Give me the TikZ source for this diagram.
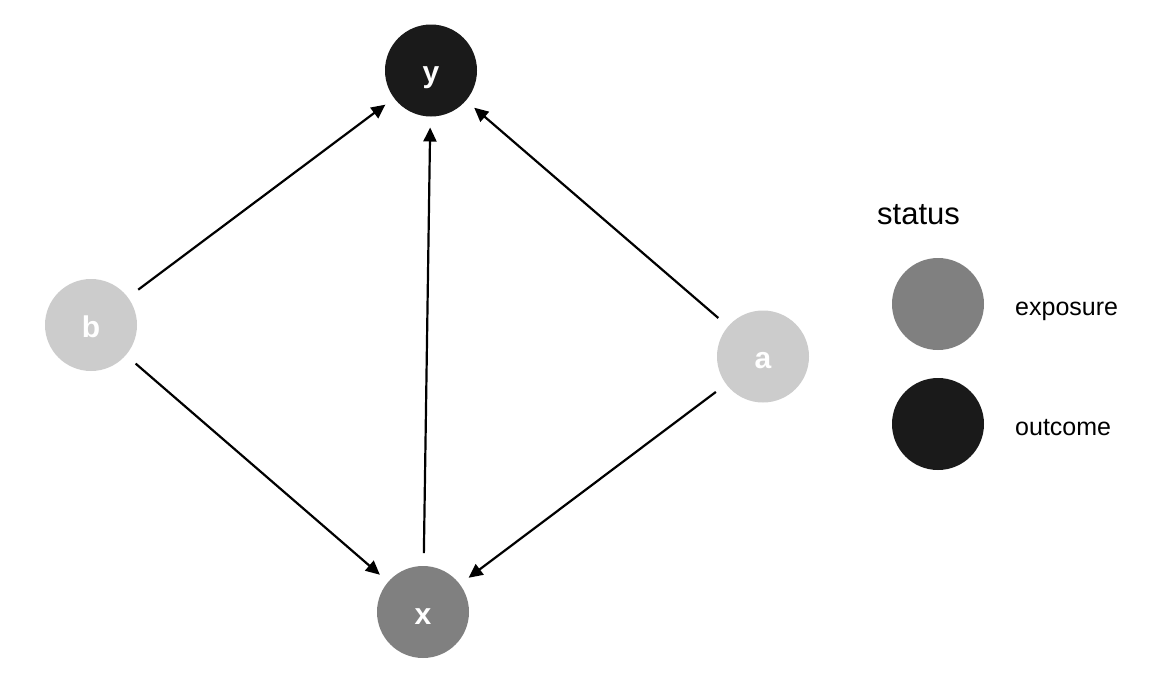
\documentclass[tikz,border=0pt]{standalone}
\usepackage{fontspec}
\setmainfont{Liberation Sans}
\usetikzlibrary{arrows.meta}
\definecolor{cdark}{HTML}{1A1A1A}
\definecolor{cmid}{HTML}{808080}
\definecolor{clight}{HTML}{CCCCCC}
\begin{document}
\begin{tikzpicture}[x=1pt,y=-1pt,
  dagnode/.style={circle,minimum size=92pt,inner sep=0pt,outer sep=0pt,text=white,text height=24pt,text depth=0pt,font=\fontsize{30}{34}\selectfont\bfseries},
  edge/.style={line width=2.2pt,-{Triangle[length=14pt,width=13pt]},shorten <=13pt,shorten >=11pt},
  legdot/.style={circle,minimum size=92pt,inner sep=0pt},
  legtext/.style={anchor=base west,inner sep=0pt,font=\fontsize{25}{30}\selectfont}]
\useasboundingbox[fill=white] (0,0) rectangle (1152,691);
\node[dagnode,fill=cdark] (y) at (431,70.5) {y};
\node[dagnode,fill=clight] (b) at (91,325) {b};
\node[dagnode,fill=clight] (a) at (763,356.5) {a};
\node[dagnode,fill=cmid] (x) at (423,612) {x};
\draw[edge] (b) -- (y);
\draw[edge] (b) -- (x);
\draw[edge] (a) -- (y);
\draw[edge] (a) -- (x);
\draw[edge] (x) -- (y);
\node[anchor=base west,inner sep=0pt,font=\fontsize{31}{36}\selectfont] (status) at (877,224) {status};
\node[legdot,fill=cmid] (l1) at (938,304) {};
\node[legdot,fill=cdark] (l2) at (938,424) {};
\node[legtext] (t1) at (1015,315) {exposure};
\node[legtext] (t2) at (1015,435) {outcome};
\end{tikzpicture}
\end{document}
